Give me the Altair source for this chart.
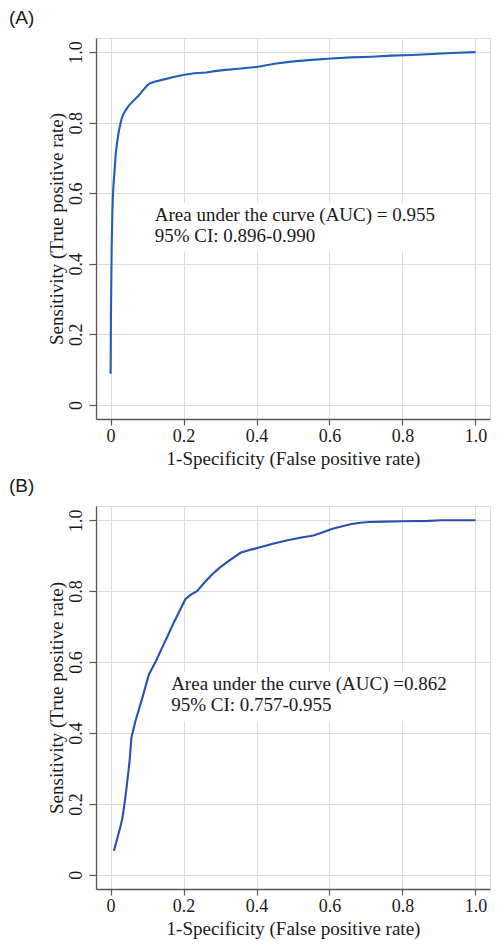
import altair as alt
import pandas as pd

# ---------------- data ----------------
A_fpr = [0.0, 0.001, 0.003, 0.005, 0.0066, 0.009, 0.011, 0.014, 0.018, 0.022, 0.025,
         0.030, 0.035, 0.041, 0.049, 0.057, 0.066, 0.075, 0.082, 0.089, 0.098, 0.107,
         0.120, 0.144, 0.170, 0.198, 0.230, 0.262, 0.285, 0.308, 0.350, 0.400, 0.450,
         0.495, 0.550, 0.605, 0.660, 0.715, 0.770, 0.825, 0.870, 0.907, 0.950, 1.0]
A_tpr = [0.088, 0.25, 0.45, 0.55, 0.60, 0.64, 0.666, 0.71, 0.745, 0.772, 0.788,
         0.810, 0.824, 0.835, 0.847, 0.856, 0.866, 0.875, 0.883, 0.892, 0.903, 0.911,
         0.916, 0.922, 0.929, 0.935, 0.940, 0.942, 0.946, 0.949, 0.953, 0.958, 0.967,
         0.973, 0.978, 0.982, 0.985, 0.987, 0.990, 0.992, 0.994, 0.996, 0.998, 1.0]

B_fpr = [0.009, 0.015, 0.021, 0.027, 0.032, 0.036, 0.040, 0.044, 0.048, 0.052,
         0.057, 0.068, 0.087, 0.105, 0.123, 0.141, 0.157, 0.173, 0.190, 0.205,
         0.220, 0.237, 0.258, 0.278, 0.300, 0.324, 0.356, 0.385, 0.415, 0.450,
         0.488, 0.523, 0.556, 0.580, 0.606, 0.635, 0.661, 0.685, 0.707, 0.750,
         0.798, 0.870, 0.907, 0.950, 1.0]
B_tpr = [0.068, 0.090, 0.113, 0.136, 0.158, 0.185, 0.215, 0.248, 0.283, 0.320,
         0.386, 0.433, 0.499, 0.565, 0.600, 0.640, 0.675, 0.711, 0.746, 0.777,
         0.790, 0.800, 0.825, 0.847, 0.867, 0.885, 0.908, 0.917, 0.925, 0.935,
         0.944, 0.951, 0.957, 0.965, 0.975, 0.983, 0.989, 0.993, 0.995, 0.996,
         0.997, 0.998, 1.0, 1.0, 1.0]

grid_values = [0.0, 0.1, 0.2, 0.3, 0.4, 0.5, 0.6, 0.7, 0.8, 0.9, 1.0]
panel_labels = ["(A)", "(B)"]
auc_lines = [["Area under the curve (AUC) = 0.955", " 95% CI: 0.896-0.990"],
             ["Area under the curve (AUC) =0.862", " 95% CI: 0.757-0.955"]]
# annotation anchor (data units): left x, baseline of first and second line
auc_x = [0.121, 0.166]
auc_y1 = [0.52, 0.52]
auc_y2 = [0.462, 0.461]

x_title = "1-Specificity (False positive rate)"
y_title = "Sensitivity (True positive rate)"

SERIF = "Liberation Serif"
TXT = "#1a1a1a"

label_expr = ("datum.value == 0 ? '0' : "
              "(round(datum.value * 10) % 2 == 0 ? format(datum.value, '.1f') : '')")
tick_op = {"condition": {"test": "round(datum.value * 10) % 2 == 1", "value": 0},
           "value": 1}

dom = [-0.04, 1.04]


def panel(fpr, tpr, idx, color, height):
    df = pd.DataFrame({"fpr": fpr, "tpr": tpr, "i": list(range(len(fpr)))})
    xs = alt.Scale(domain=dom, nice=False, zero=False)
    ys = alt.Scale(domain=dom, nice=False, zero=False)
    xax = alt.Axis(values=grid_values, labelExpr=label_expr, tickOpacity=tick_op,
                   grid=True, gridColor="#dcdcdc", gridWidth=1,
                   domainColor="#555", domainWidth=1.3, tickColor="#555",
                   tickSize=6, tickWidth=1.2,
                   labelFont=SERIF, labelFontSize=18, labelColor=TXT,
                   labelPadding=2, labelFlush=False,
                   title=x_title, titleFont=SERIF, titleFontSize=19,
                   titleFontWeight="normal", titleColor=TXT, titlePadding=4)
    yax = alt.Axis(values=grid_values, labelExpr=label_expr, tickOpacity=tick_op,
                   grid=True, gridColor="#dcdcdc", gridWidth=1,
                   domainColor="#555", domainWidth=1.3, tickColor="#555",
                   tickSize=7, tickWidth=1.2,
                   labelFont=SERIF, labelFontSize=18, labelColor=TXT,
                   labelAngle=270, labelAlign="center", labelBaseline="alphabetic",
                   labelPadding=8, labelFlush=False,
                   title=y_title, titleFont=SERIF, titleFontSize=19,
                   titleFontWeight="normal", titleColor=TXT, titlePadding=1)

    line = alt.Chart(df).mark_line(color=color, strokeWidth=2.1).encode(
        x=alt.X("fpr:Q", scale=xs, axis=xax),
        y=alt.Y("tpr:Q", scale=ys, axis=yax),
        order="i:Q",
    )

    box_df = pd.DataFrame({
        "x0": [auc_x[idx] - 0.023], "x1": [auc_x[idx] + 0.78],
        "y0": [auc_y2[idx] - 0.027], "y1": [auc_y1[idx] + 0.053],
    })
    box = alt.Chart(box_df).mark_rect(color="white").encode(
        x=alt.X("x0:Q", scale=xs), x2="x1:Q",
        y=alt.Y("y0:Q", scale=ys), y2="y1:Q",
    )

    ann_df = pd.DataFrame({
        "x": [auc_x[idx], auc_x[idx]],
        "y": [auc_y1[idx], auc_y2[idx]],
        "t": auc_lines[idx],
    })
    ann = alt.Chart(ann_df).mark_text(
        align="left", baseline="alphabetic", font=SERIF, fontSize=19, color=TXT
    ).encode(x=alt.X("x:Q", scale=xs), y=alt.Y("y:Q", scale=ys), text="t:N")

    lab_df = pd.DataFrame({"t": [panel_labels[idx]]})
    lab = alt.Chart(lab_df).mark_text(
        align="left", baseline="middle", font="Liberation Sans", fontSize=19, color=TXT
    ).encode(x=alt.value(-87), y=alt.value(-20), text="t:N")

    return alt.layer(box, line, ann, lab).properties(width=394, height=height)


chart_a = panel(A_fpr, A_tpr, 0, "#1f5fb8", 381)
chart_b = panel(B_fpr, B_tpr, 1, "#2a4fae", 383)

chart = alt.vconcat(chart_a, chart_b, spacing=7).properties(
    padding={"left": 0, "top": 0, "right": 0, "bottom": 0}
).configure_view(
    stroke="#111", strokeWidth=1.3
).configure(background="white")

chart.save("out.html", embed_options={"renderer": "svg", "actions": False})
